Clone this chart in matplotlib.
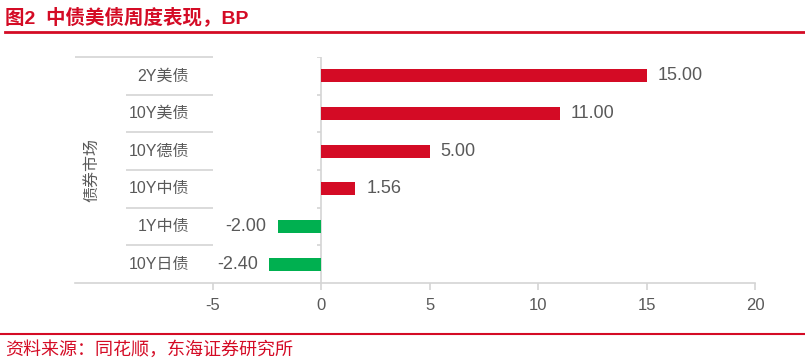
import matplotlib.pyplot as plt
from matplotlib.lines import Line2D

plt.rcParams['font.family'] = ['Liberation Sans', 'Noto Sans CJK SC']

# data
categories = ['2Y美债', '10Y美债', '10Y德债', '10Y中债', '1Y中债', '10Y日债']
values = [15.00, 11.00, 5.00, 1.56, -2.00, -2.40]
xticks = [-5, 0, 5, 10, 15, 20]

red = '#D40B25'
green = '#00B050'
gray_text = '#595959'
line_gray = '#D4D4D4'

W, H = 805, 363
fig = plt.figure(figsize=(W / 100, H / 100), dpi=100)

# axes area in pixels: x 75..755, y 57..283
ax = fig.add_axes([75 / W, (H - 283) / H, 680 / W, (283 - 57) / H])
xmin = -11.35
ax.set_xlim(xmin, 20)
ax.set_ylim(len(categories) - 0.5, -0.5)

colors = [red if v >= 0 else green for v in values]
ypos = list(range(len(categories)))
bars = ax.barh(ypos, values, height=0.35, color=colors, zorder=3)
ax.bar_label(bars, fmt='%.2f', padding=8, fontsize=13, color=gray_text)

# spines
for s in ['top', 'right', 'left']:
    ax.spines[s].set_visible(False)
ax.spines['bottom'].set_color(line_gray)
ax.spines['bottom'].set_linewidth(1.2)

ax.set_xticks(xticks)
ax.set_xticklabels([str(t) for t in xticks])
ax.tick_params(axis='x', length=5, color=line_gray, width=1.2,
               labelsize=12, labelcolor=gray_text, pad=6)
ax.set_yticks([])

# vertical axis at zero with small ticks at category boundaries
ax.axvline(0, color=line_gray, lw=1.2, zorder=2)
bounds = [i - 0.5 for i in range(len(categories) + 1)]
ax.hlines(bounds[:-1], -0.2, 0, color=line_gray, lw=1.2)

# category table on the left
ax.hlines(bounds[0], xmin, -5, color=line_gray, lw=1.2, clip_on=False)
ax.hlines(bounds[1:-1], -8.98, -5, color=line_gray, lw=1.2)
for i, c in enumerate(categories):
    ax.text(-6.1, i, c, ha='right', va='center', fontsize=11.5, color=gray_text)
ax.text(-10.55, (len(categories) - 1) / 2, '债券市场', rotation=90,
        ha='center', va='center', fontsize=11.5, color=gray_text)

# title and source
fig.text(5 / W, 1 - 17 / H, '图2  中债美债周度表现，BP', fontsize=14,
         fontweight='bold', color=red, ha='left', va='center')
fig.add_artist(Line2D([5 / W, 1], [1 - 32 / H, 1 - 32 / H], color=red, lw=2))
fig.add_artist(Line2D([0, 1], [1 - 334 / H, 1 - 334 / H], color=red, lw=1.5))
fig.text(5 / W, 1 - 350 / H, '资料来源：同花顺，东海证券研究所', fontsize=13,
         color=red, ha='left', va='center')

fig.savefig('out.png', dpi=100)
